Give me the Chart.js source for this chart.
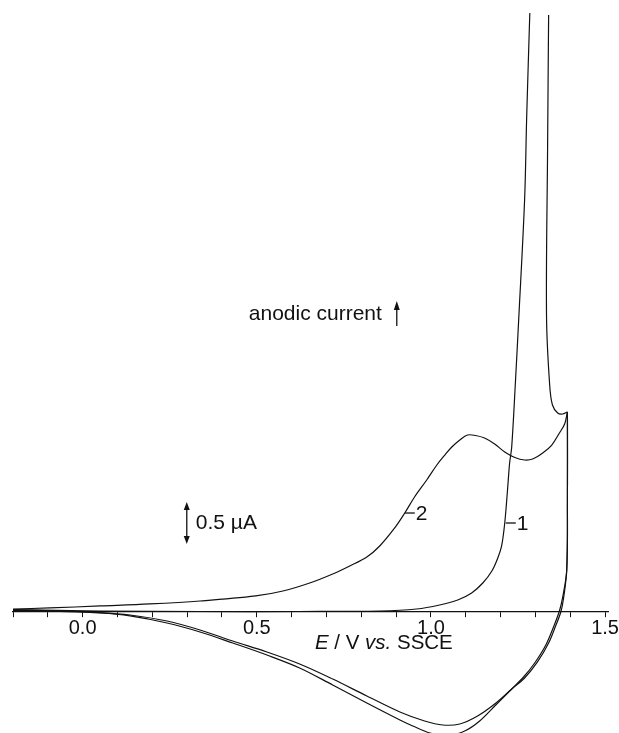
<!DOCTYPE html>
<html>
<head>
<meta charset="utf-8">
<script src="https://cdn.jsdelivr.net/npm/chart.js@4/dist/chart.umd.min.js"></script>
<style>
  html, body { margin: 0; padding: 0; background: #fff; }
  #wrap { width: 619px; height: 733px; }
</style>
</head>
<body>
<div id="wrap"><canvas id="c" width="619" height="733"></canvas></div>
<script>
// ---- data (E / V vs. SSCE, current / µA) ----
// curve 2, forward scan
const c2fE = [-0.200,-0.094,0.050,0.193,0.337,0.497,0.575,0.652,0.718,0.767,0.816,0.853,0.896,0.925,0.953,0.988,1.017,1.040,1.060,1.083,1.105,1.128,1.154,1.183,1.212,1.241,1.269,1.292,1.321,1.347,1.369,1.384,1.392];
const c2fI = [0.031,0.044,0.069,0.094,0.131,0.194,0.256,0.356,0.469,0.569,0.681,0.819,1.044,1.231,1.431,1.644,1.831,1.956,2.056,2.144,2.206,2.200,2.169,2.094,1.994,1.925,1.894,1.906,1.981,2.081,2.231,2.344,2.494];
// curve 2, reverse scan
const c2rE = [1.392,1.392,1.390,1.381,1.373,1.358,1.338,1.306,1.269,1.232,1.183,1.134,1.083,1.034,0.982,0.911,0.816,0.718,0.623,0.529,0.431,0.337,0.242,0.136,0.050,-0.065,-0.200];
const c2rI = [2.494,1.394,0.519,0.169,-0.006,-0.181,-0.394,-0.631,-0.831,-0.969,-1.156,-1.306,-1.406,-1.419,-1.369,-1.256,-1.056,-0.844,-0.656,-0.506,-0.369,-0.231,-0.119,-0.044,-0.013,0.006,0.019];
// curve 1, forward scan (runs off the top)
const c1fE = [-0.200,0.050,0.337,0.623,0.853,0.959,1.025,1.077,1.117,1.149,1.175,1.192,1.203,1.212,1.220,1.226,1.232,1.243,1.252,1.269,1.275,1.284];
const c1fI = [0.025,0.006,0.000,0.000,0.006,0.031,0.081,0.144,0.231,0.356,0.506,0.669,0.819,1.106,1.519,1.856,2.056,2.894,3.644,5.144,6.181,7.481];
// curve 1, coming back down from the top to the switching point
const c1tE = [1.338,1.335,1.332,1.341,1.349,1.364,1.378,1.392];
const c1tI = [7.456,5.769,3.681,2.831,2.581,2.481,2.469,2.494];
// curve 1, reverse scan
const c1rE = [1.392,1.392,1.390,1.378,1.369,1.352,1.330,1.298,1.266,1.232,1.189,1.140,1.097,1.045,0.997,0.948,0.911,0.816,0.718,0.623,0.529,0.431,0.337,0.242,0.136,0.050,-0.065,-0.200];
const c1rI = [2.494,1.394,0.519,0.169,0.006,-0.194,-0.419,-0.644,-0.819,-0.969,-1.156,-1.369,-1.494,-1.556,-1.519,-1.431,-1.356,-1.144,-0.919,-0.706,-0.544,-0.394,-0.256,-0.144,-0.056,-0.019,0.000,0.013];

const tickValues = [0.0, 0.5, 1.0, 1.5];
const tickLabels = ['0.0', '0.5', '1.0', '1.5'];
const curveLabels = ['1', '2'];

// ---- build ----
const FONT = "'Liberation Sans', Arial, Helvetica, sans-serif";
const INK = '#111';
function pts(xs, ys) { return xs.map((x, i) => ({ x: x, y: ys[i] })); }
function ds(xs, ys) {
  return { data: pts(xs, ys), showLine: true, borderColor: INK, borderWidth: 1.2,
           pointRadius: 0, tension: 0.35, fill: false };
}

const annot = {
  id: 'annot',
  afterDraw(chart) {
    const ctx = chart.ctx, X = chart.scales.x, Y = chart.scales.y;
    const px = v => X.getPixelForValue(v), py = v => Y.getPixelForValue(v);
    ctx.save();
    ctx.fillStyle = INK; ctx.strokeStyle = INK; ctx.lineWidth = 1.3;
    ctx.textBaseline = 'middle'; ctx.textAlign = 'left';
    ctx.font = '21px ' + FONT;
    // anodic current label and arrow
    ctx.fillText('anodic current', px(0.477), py(3.72));
    const ax = px(0.902), ay0 = py(3.57), ay1 = py(3.87);
    ctx.beginPath(); ctx.moveTo(ax, ay0); ctx.lineTo(ax, ay1 + 6); ctx.stroke();
    ctx.beginPath(); ctx.moveTo(ax, ay1 - 1); ctx.lineTo(ax - 3, ay1 + 8); ctx.lineTo(ax + 3, ay1 + 8); ctx.closePath(); ctx.fill();
    // scale bar 0.5 µA
    const sx = px(0.299), sb = py(0.856), st = py(1.356);
    ctx.beginPath(); ctx.moveTo(sx, sb - 5); ctx.lineTo(sx, st + 5); ctx.stroke();
    ctx.beginPath(); ctx.moveTo(sx, st - 1); ctx.lineTo(sx - 3, st + 7); ctx.lineTo(sx + 3, st + 7); ctx.closePath(); ctx.fill();
    ctx.beginPath(); ctx.moveTo(sx, sb + 1); ctx.lineTo(sx - 3, sb - 7); ctx.lineTo(sx + 3, sb - 7); ctx.closePath(); ctx.fill();
    ctx.fillText('0.5 \u00B5A', px(0.325), py(1.106));
    // curve labels
    const lab = (e, i, t) => {
      const x = px(e), y = py(i);
      ctx.beginPath(); ctx.moveTo(x, y); ctx.lineTo(x + 10, y); ctx.stroke();
      ctx.fillText(t, x + 11, y + 1);
    };
    lab(0.925, 1.231, curveLabels[1]);
    lab(1.215, 1.106, curveLabels[0]);
    // axis title
    let tx = px(0.667); const ty = py(-0.394);
    const parts = [['E', true], [' / V ', false], ['vs.', true], [' SSCE', false]];
    for (const [s, it] of parts) {
      ctx.font = (it ? 'italic ' : '') + '20.5px ' + FONT;
      ctx.fillText(s, tx, ty);
      tx += ctx.measureText(s).width;
    }
    ctx.restore();
  }
};

new Chart(document.getElementById('c'), {
  type: 'scatter',
  data: {
    datasets: [
      ds(c1fE, c1fI), ds(c1tE, c1tI), ds(c1rE, c1rI),
      ds(c2fE, c2fI), ds(c2rE, c2rI)
    ]
  },
  options: {
    responsive: false,
    devicePixelRatio: 1,
    animation: false,
    layout: { padding: { left: 13, right: 10, top: 0, bottom: 0 } },
    plugins: { legend: { display: false }, tooltip: { enabled: false } },
    scales: {
      x: {
        type: 'linear', min: -0.2, max: 1.51,
        position: { y: 0 },
        afterFit: s => { s.height = 0; },
        grid: { drawOnChartArea: false, drawTicks: true, tickLength: 5, color: INK, lineWidth: 1 },
        border: { display: true, color: INK, width: 1.2 },
        ticks: {
          stepSize: 0.1, autoSkip: false, maxRotation: 0, includeBounds: false, padding: 0,
          color: INK, font: { family: FONT, size: 20 },
          callback: v => {
            const k = tickValues.findIndex(t => Math.abs(t - v) < 1e-6);
            return k >= 0 ? tickLabels[k] : '';
          }
        }
      },
      y: { type: 'linear', min: -1.519, max: 7.644, display: false }
    }
  },
  plugins: [annot]
});
</script>
</body>
</html>
